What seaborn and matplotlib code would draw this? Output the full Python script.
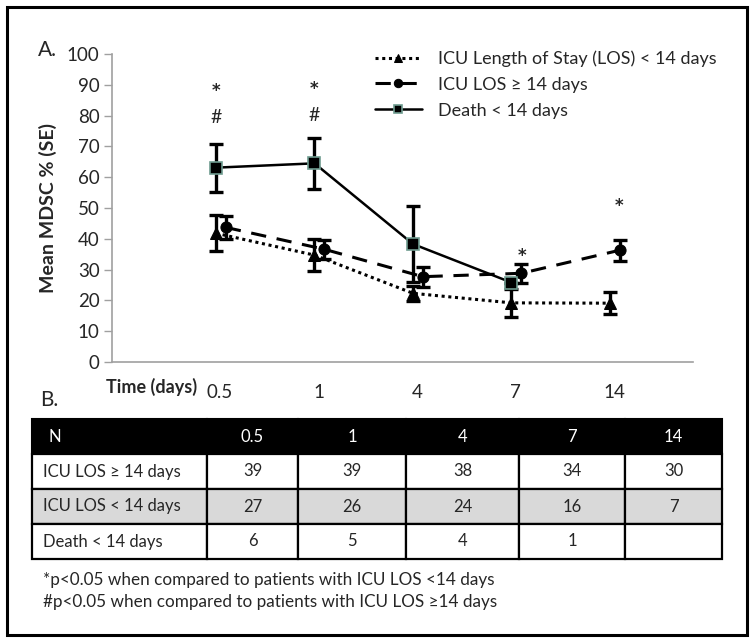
import numpy as np
import pandas as pd
import seaborn as sns
import matplotlib.pyplot as plt
from matplotlib.patches import Rectangle
import matplotlib.transforms as mtransforms

sns.set_style("white")
plt.rcParams['font.family'] = ['Lato', 'DejaVu Sans']

# data
days = ['0.5', '1', '4', '7', '14']
los_short = [41.8, 34.7, 22.3, 19.2, 19.1]
los_short_se = [5.8, 5.3, 2.5, 4.5, 3.6]
los_long = [43.7, 36.6, 27.7, 28.8, 36.3]
los_long_se = [3.7, 3.0, 3.2, 3.0, 3.4]
death = [63.1, 64.5, 38.3, 25.8, np.nan]
death_se = [7.8, 8.2, 12.2, 0.0, np.nan]

star_pos = [(0, 88), (1, 88.5), (3.11, 34.5), (4.09, 50.5)]
hash_pos = [(0, 79.5), (1, 80)]

n_rows = ['ICU LOS \u2265 14 days', 'ICU LOS < 14 days', 'Death < 14 days']
n_vals = [['39', '39', '38', '34', '30'],
          ['27', '26', '24', '16', '7'],
          ['6', '5', '4', '1', '']]

x = np.arange(len(days))
df = pd.DataFrame({'x': x, 'short': los_short, 'long': los_long, 'death': death})

fig = plt.figure(figsize=(7.54, 6.41), dpi=100)
ax = fig.add_axes([112/754, 1-362/641, 581/754, 308/641])

# error bars
ax.errorbar(x, los_short, yerr=los_short_se, fmt='none', ecolor='black',
            elinewidth=2.4, capsize=5, capthick=2.4, zorder=3)
ax.errorbar(x + 0.1, los_long, yerr=los_long_se, fmt='none', ecolor='black',
            elinewidth=2.4, capsize=5, capthick=2.4, zorder=3)
ax.errorbar(x, death, yerr=death_se, fmt='none', ecolor='black',
            elinewidth=2.4, capsize=5, capthick=2.4, zorder=3)

# lines
sns.lineplot(x=df['x'], y=df['short'], ax=ax, color='black', linestyle=(0, (1, 1.2)),
             linewidth=2.2, marker='^', markersize=8, markeredgecolor='black',
             label='ICU Length of Stay (LOS) < 14 days', zorder=4)
sns.lineplot(x=df['x'] + 0.1, y=df['long'], ax=ax, color='black', linestyle=(0, (5, 3.5)),
             linewidth=2.2, marker='o', markersize=8, markeredgecolor='black',
             label='ICU LOS \u2265 14 days', zorder=4)
sns.lineplot(x=df['x'], y=df['death'], ax=ax, color='black', linestyle='-',
             linewidth=1.8, marker='s', markersize=8, markeredgecolor='#6f9c90',
             markeredgewidth=1.2, label='Death < 14 days', zorder=5)

for px, py in star_pos:
    ax.text(px, py, '*', ha='center', va='center', fontsize=12,
            family='DejaVu Sans', fontweight='bold')
for px, py in hash_pos:
    ax.text(px, py, '#', ha='center', va='center', fontsize=14)

ax.set_xlim(-1.056, 4.843)
ax.set_ylim(0, 100)
ax.set_yticks(range(0, 101, 10))
ax.set_xticks(x)
ax.set_xticklabels(days)
ax.set_xlabel('')
ax.set_ylabel('Mean MDSC % (SE)', fontsize=14, fontweight='bold', labelpad=7)
ax.tick_params(axis='y', labelsize=13.5, length=6, color='#a0a0a0', width=1, pad=3, left=True)
ax.tick_params(axis='x', labelsize=13.5, length=0, pad=16)
offset = mtransforms.ScaledTranslation(4/100, 0, fig.dpi_scale_trans)
for lbl in ax.get_xticklabels():
    lbl.set_transform(lbl.get_transform() + offset)
for s in ['top', 'right']:
    ax.spines[s].set_visible(False)
for s in ['left', 'bottom']:
    ax.spines[s].set_color('#a0a0a0')
    ax.spines[s].set_linewidth(1.2)

leg = ax.legend(loc='upper left', bbox_to_anchor=(263/581, 1.012), frameon=False,
                fontsize=13, handlelength=2.6, handletextpad=0.9, labelspacing=0.55,
                borderaxespad=0, borderpad=0)
for h in leg.legend_handles:
    h.set_markersize(6)

fig.text(38/754, 1-50/641, 'A.', fontsize=15, va='center', ha='left')
fig.text(40/754, 1-400/641, 'B.', fontsize=15, va='center', ha='left')
fig.text(106/754, 1-387/641, 'Time (days)', fontsize=13, fontweight='bold',
         va='center', ha='left')

# table of N
tx = [32, 207, 298, 406, 519, 625, 722]
ty = [419, 454, 489, 524, 559]
W, H = 754, 641
header = ['N'] + days
for c in range(6):
    x0, x1 = tx[c], tx[c + 1]
    fig.patches.append(Rectangle((x0/W, 1-ty[1]/H), (x1-x0)/W, (ty[1]-ty[0])/H,
                                 transform=fig.transFigure, facecolor='black',
                                 edgecolor='black', lw=1.5))
    if c == 0:
        fig.text((x0+16)/W, 1-(ty[0]+ty[1])/2/H, header[c], color='white',
                 fontsize=12, va='center', ha='left')
    else:
        fig.text((x0+x1)/2/W, 1-(ty[0]+ty[1])/2/H, header[c], color='white',
                 fontsize=12, va='center', ha='center')
for r in range(3):
    y0, y1 = ty[r + 1], ty[r + 2]
    fc = '#d9d9d9' if r == 1 else 'white'
    for c in range(6):
        x0, x1 = tx[c], tx[c + 1]
        fig.patches.append(Rectangle((x0/W, 1-y1/H), (x1-x0)/W, (y1-y0)/H,
                                     transform=fig.transFigure, facecolor=fc,
                                     edgecolor='black', lw=1.6))
        if c == 0:
            fig.text((x0+11)/W, 1-(y0+y1)/2/H, n_rows[r], fontsize=12,
                     va='center', ha='left')
        else:
            fig.text((x0+x1)/2/W, 1-(y0+y1)/2/H, n_vals[r][c-1], fontsize=12,
                     va='center', ha='center')

fig.text(43/W, 1-580/H, '*p<0.05 when compared to patients with ICU LOS <14 days',
         fontsize=12.3, va='center', ha='left')
fig.text(43/W, 1-602/H, '#p<0.05 when compared to patients with ICU LOS \u226514 days',
         fontsize=12.3, va='center', ha='left')

fig.patches.append(Rectangle((7/W, 1-635/H), 740/W, 628/H, transform=fig.transFigure,
                             facecolor='none', edgecolor='black', lw=2.2))

fig.savefig('out.png', dpi=100)
